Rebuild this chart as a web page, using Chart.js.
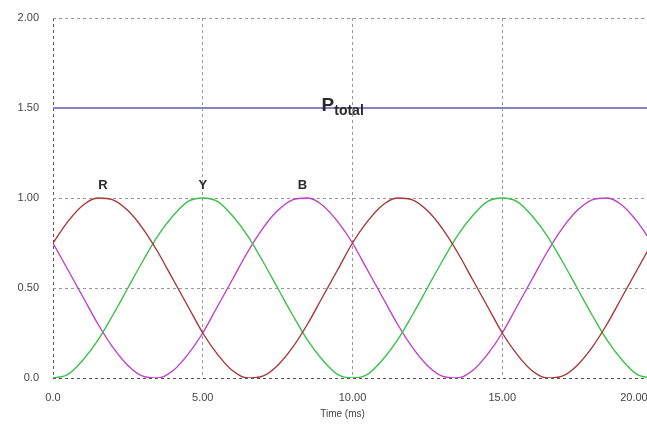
<!DOCTYPE html>
<html>
<head>
<meta charset="utf-8">
<script src="https://cdn.jsdelivr.net/npm/chart.js@4/dist/chart.umd.min.js"></script>
<style>
  html, body { margin: 0; padding: 0; background: #fff; overflow: hidden; }
  #wrap { position: relative; width: 652px; height: 426px; }
</style>
</head>
<body>
<div id="wrap"><canvas id="powerChart"></canvas></div>
<script>
// ── DATA ─────────────────────────────────────────────────────────
const TIME_MS = [
  0, 0.5, 1, 1.5, 2, 2.5, 3, 3.5, 4, 4.5, 5, 5.5, 6, 6.5, 7, 7.5, 8, 8.5, 9, 9.5,
  10, 10.5, 11, 11.5, 12, 12.5, 13, 13.5, 14, 14.5, 15, 15.5, 16, 16.5, 17, 17.5, 18, 18.5, 19, 19.5, 20
];
const POWER_R = [
  0.75, 0.87, 0.96, 1.00, 0.99, 0.93, 0.83, 0.70, 0.55, 0.40, 0.25, 0.13, 0.04, 0.00, 0.01, 0.07, 0.17, 0.30, 0.45, 0.60,
  0.75, 0.87, 0.96, 1.00, 0.99, 0.93, 0.83, 0.70, 0.55, 0.40, 0.25, 0.13, 0.04, 0.00, 0.01, 0.07, 0.17, 0.30, 0.45, 0.60, 0.75
];
const POWER_Y = [
  0.00, 0.02, 0.10, 0.21, 0.35, 0.50, 0.65, 0.79, 0.90, 0.98, 1.00, 0.98, 0.90, 0.79, 0.65, 0.50, 0.35, 0.21, 0.10, 0.02,
  0.00, 0.02, 0.10, 0.21, 0.35, 0.50, 0.65, 0.79, 0.90, 0.98, 1.00, 0.98, 0.90, 0.79, 0.65, 0.50, 0.35, 0.21, 0.10, 0.02, 0.00
];
const POWER_B = [
  0.75, 0.60, 0.45, 0.30, 0.17, 0.07, 0.01, 0.00, 0.04, 0.13, 0.25, 0.40, 0.55, 0.70, 0.83, 0.93, 0.99, 1.00, 0.96, 0.87,
  0.75, 0.60, 0.45, 0.30, 0.17, 0.07, 0.01, 0.00, 0.04, 0.13, 0.25, 0.40, 0.55, 0.70, 0.83, 0.93, 0.99, 1.00, 0.96, 0.87, 0.75
];
const TOTAL_TIME = [0, 20];
const POWER_TOTAL = [1.5, 1.5];

const X_TICKS = [0, 5, 10, 15, 20];
const X_TICK_LABELS = ['0.0', '5.00', '10.00', '15.00', '20.00'];
const Y_TICKS = [0, 0.5, 1, 1.5, 2];
const Y_TICK_LABELS = ['0.0', '0.50', '1.00', '1.50', '2.00'];

const PHASE_NAMES = ['R', 'Y', 'B'];
const PHASE_PEAKS = [1.67, 5.0, 8.33];

const TICK_FONT = { family: "'Liberation Sans', Arial, sans-serif", size: 11 };
const GRID_COLOR = '#9a9a9a';
const AXIS_COLOR = '#555';

const toPoints = (xs, ys) => xs.map((x, i) => ({ x: x, y: ys[i] }));

// last label sits against the right edge, so pad it on the right
const xLabel = v => {
  const i = X_TICKS.indexOf(v);
  return i === X_TICKS.length - 1 ? X_TICK_LABELS[i] + '\u2003\u2003\u2003 ' : X_TICK_LABELS[i];
};
// grid line at 0 doubles as the (dashed) axis line
const gridColor = c => (c.tick && c.tick.value === 0 ? AXIS_COLOR : GRID_COLOR);

// ── LABELS PLUGIN ────────────────────────────────────────────────
const labelPlugin = {
  id: 'phaseLabels',
  afterDatasetsDraw(chart) {
    const ctx = chart.ctx;
    const xs = chart.scales.x, ys = chart.scales.y;
    ctx.save();
    ctx.fillStyle = '#2a2a2a';
    ctx.textAlign = 'center';
    ctx.textBaseline = 'alphabetic';
    ctx.font = "bold 13px 'Liberation Sans', Arial, sans-serif";
    PHASE_NAMES.forEach((name, i) => {
      ctx.fillText(name, xs.getPixelForValue(PHASE_PEAKS[i]), ys.getPixelForValue(1.0) - 9);
    });
    // P_total
    const px = xs.getPixelForValue(9.0);
    const py = ys.getPixelForValue(1.5);
    ctx.textAlign = 'left';
    ctx.font = "bold 19px 'Liberation Sans', Arial, sans-serif";
    ctx.fillText('P', px - 1, py + 3);
    const pw = ctx.measureText('P').width;
    ctx.font = "bold 14px 'Liberation Sans', Arial, sans-serif";
    ctx.fillText('total', px - 1 + pw, py + 7);
    ctx.restore();
  }
};

// ── CHART ────────────────────────────────────────────────────────
new Chart(document.getElementById('powerChart'), {
  type: 'line',
  data: {
    datasets: [
      { label: 'R', data: toPoints(TIME_MS, POWER_R), borderColor: '#a83838', borderWidth: 1.4 },
      { label: 'Y', data: toPoints(TIME_MS, POWER_Y), borderColor: '#3cc24a', borderWidth: 1.4 },
      { label: 'B', data: toPoints(TIME_MS, POWER_B), borderColor: '#c040c8', borderWidth: 1.4 },
      { label: 'Ptotal', data: toPoints(TOTAL_TIME, POWER_TOTAL), borderColor: '#8585c4', borderWidth: 2 }
    ]
  },
  options: {
    responsive: true,
    maintainAspectRatio: false,
    animation: false,
    layout: { padding: { top: 18, right: 0, left: 0, bottom: 0 } },
    elements: {
      point: { radius: 0 },
      line: { cubicInterpolationMode: 'monotone', fill: false }
    },
    plugins: {
      legend: { display: false },
      tooltip: { enabled: false }
    },
    scales: {
      x: {
        type: 'linear',
        min: 0,
        max: 20,
        afterBuildTicks: s => { s.ticks = X_TICKS.map(v => ({ value: v })); },
        afterFit: s => { s.height = 48; s.paddingLeft = 0; s.paddingRight = 0; },
        ticks: {
          color: '#444',
          font: TICK_FONT,
          padding: 13,
          maxRotation: 0,
          callback: xLabel
        },
        grid: { color: gridColor, drawTicks: false },
        border: { display: false, dash: [3, 3] },
        title: {
          display: true,
          text: 'Time (ms)\u2003\u2003',
          color: '#444',
          font: { family: TICK_FONT.family, size: 10 },
          padding: { top: 2, bottom: 6 }
        }
      },
      y: {
        min: 0,
        max: 2,
        afterBuildTicks: s => { s.ticks = Y_TICKS.map(v => ({ value: v })); },
        afterFit: s => { s.width = 53; s.paddingTop = 0; s.paddingBottom = 0; },
        ticks: {
          color: '#444',
          font: TICK_FONT,
          padding: 14,
          callback: v => Y_TICK_LABELS[Y_TICKS.indexOf(v)]
        },
        grid: { color: gridColor, drawTicks: false },
        border: { display: false, dash: [3, 3] }
      }
    }
  },
  plugins: [labelPlugin]
});
</script>
</body>
</html>
